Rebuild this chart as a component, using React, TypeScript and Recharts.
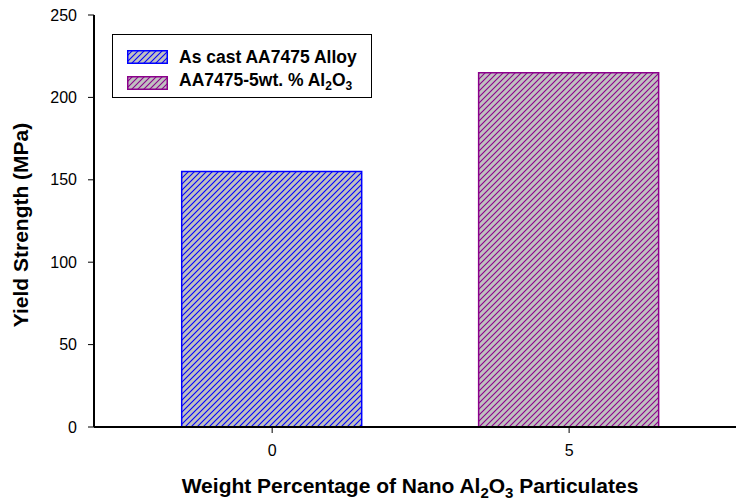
import React from 'react';
import { BarChart, Bar, Cell, XAxis, YAxis } from 'recharts';

// values
const categories = [0, 5];
const yieldStrength = [155, 215];
const seriesNames = ['As cast AA7475 Alloy', 'AA7475-5wt. % Al'];
const seriesColors = ['#0000ff', '#8b008b'];
const yTicks = [0, 50, 100, 150, 200, 250];
const xTicks = [0, 5];

const data = categories.map((c, i) => ({ wt: c, ys: yieldStrength[i] }));

const FONT = '"Liberation Sans", Arial, sans-serif';

// "/" hatching on a light gray ground
const Hatch: React.FC<{ id: string; color: string }> = ({ id, color }) => (
  <pattern id={id} patternUnits="userSpaceOnUse" width={6} height={6}>
    <rect x={0} y={0} width={6} height={6} fill="#c0c0c0" />
    <path d="M0,6 L6,0 M-1,1 L1,-1 M5,7 L7,5" stroke={color} strokeWidth={1.1} />
  </pattern>
);

const XLabel = () => (
  <text x={410} y={493} textAnchor="middle" fontFamily={FONT} fontSize={21} fontWeight="bold" fill="#000">
    Weight Percentage of Nano Al<tspan dy={5} fontSize={15}>2</tspan>
    <tspan dy={-5}>O</tspan><tspan dy={5} fontSize={15}>3</tspan>
    <tspan dy={-5}> Particulates</tspan>
  </text>
);

const YLabel = () => (
  <text x={0} y={0} transform="translate(28,225) rotate(-90)" textAnchor="middle" fontFamily={FONT} fontSize={21} fontWeight="bold" fill="#000">
    Yield Strength (MPa)
  </text>
);

const Swatch: React.FC<{ idx: number }> = ({ idx }) => (
  <svg width={41} height={14} style={{ display: 'block' }}>
    <defs>
      <Hatch id={`leg${idx}`} color={seriesColors[idx]} />
    </defs>
    <rect x={0.75} y={0.75} width={39.5} height={12.5} fill={`url(#leg${idx})`} stroke={seriesColors[idx]} strokeWidth={1.5} />
  </svg>
);

export default function App() {
  return (
    <div style={{ position: 'absolute', left: 0, top: 0, width: 736, height: 500, background: '#fff', overflow: 'hidden' }}>
      <BarChart width={736} height={500} data={data} margin={{ top: 15, right: 0, left: 0, bottom: 0 }}>
        <defs>
          <Hatch id="hatch0" color={seriesColors[0]} />
          <Hatch id="hatch1" color={seriesColors[1]} />
        </defs>
        <XAxis
          dataKey="wt"
          type="number"
          domain={[-3, 7.81]}
          ticks={xTicks}
          allowDataOverflow
          height={73}
          tickSize={6}
          tickMargin={12}
          axisLine={{ stroke: '#000', strokeWidth: 2 }}
          tickLine={{ stroke: '#000' }}
          tick={{ fill: '#000', fontSize: 16, fontFamily: FONT }}
          label={<XLabel />}
        />
        <XAxis
          xAxisId="top"
          orientation="top"
          type="number"
          domain={[-3, 7.81]}
          height={0}
          tick={false}
          tickLine={false}
          axisLine={{ stroke: '#000', strokeWidth: 2 }}
        />
        <YAxis
          domain={[0, 250]}
          ticks={yTicks}
          width={94}
          tickSize={6}
          tickMargin={11}
          axisLine={{ stroke: '#000', strokeWidth: 2 }}
          tickLine={{ stroke: '#000' }}
          tick={{ fill: '#000', fontSize: 16, fontFamily: FONT }}
          label={<YLabel />}
        />
        <Bar dataKey="ys" barSize={180} isAnimationActive={false}>
          {data.map((d, i) => (
            <Cell key={d.wt} fill={`url(#hatch${i})`} stroke={seriesColors[i]} strokeWidth={1.5} />
          ))}
        </Bar>
      </BarChart>
      <div
        style={{
          position: 'absolute',
          left: 112,
          top: 34,
          width: 258,
          height: 62,
          border: '1px solid #000',
          background: '#fff',
          fontFamily: FONT,
          fontWeight: 'bold',
          fontSize: 17.5,
          color: '#000',
        }}
      >
        {seriesNames.map((name, i) => (
          <div key={name} style={{ position: 'absolute', left: 14, top: 15 + i * 23, display: 'flex', alignItems: 'center' }}>
            <Swatch idx={i} />
            <span style={{ marginLeft: 11, lineHeight: '14px', whiteSpace: 'nowrap' }}>
              {name}
              {i === 1 && (
                <>
                  <sub style={{ fontSize: 12, verticalAlign: -4 }}>2</sub>O<sub style={{ fontSize: 12, verticalAlign: -4 }}>3</sub>
                </>
              )}
            </span>
          </div>
        ))}
      </div>
    </div>
  );
}
